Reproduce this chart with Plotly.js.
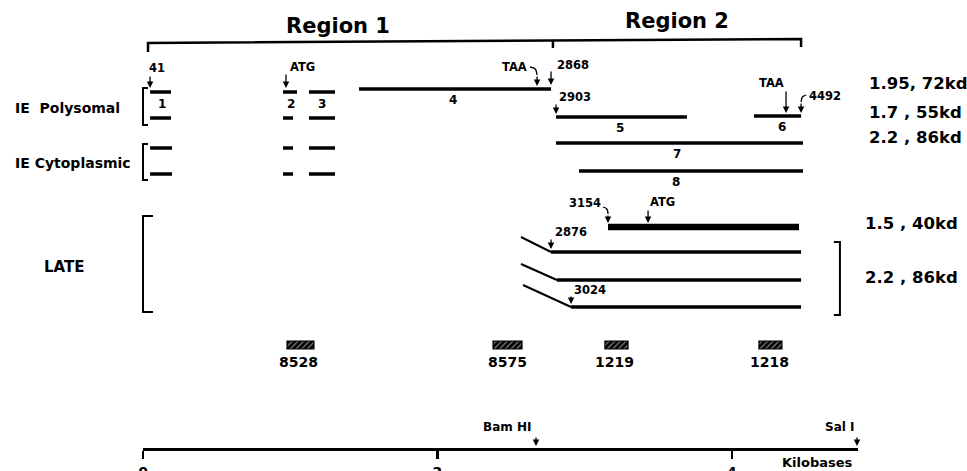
<!DOCTYPE html>
<html><head><meta charset="utf-8">
<script src="https://cdn.plot.ly/plotly-3.0.1.min.js"></script>
<style>html,body{margin:0;padding:0;background:#fff}#chart{width:967px;height:471px}</style>
</head><body><div id="chart"></div>
<script>
// ===== DATA (x positions in kilobases, rows = vertical track position) =====
// IE transcripts: exon segments
const segStart = [0.048,0.951,1.127,1.467, 0.048,0.951,1.127,2.805,4.149, 0.048,0.951,1.127,2.805, 0.048,0.951,1.127,2.961];
const segEnd   = [0.190,1.046,1.304,2.771, 0.190,1.019,1.304,3.694,4.469, 0.197,1.019,1.304,4.482, 0.197,1.019,1.304,4.482];
const segRow   = [92,92,92,89, 118,118,118,117,116, 148,148,148,143, 174,174,174,171];

// exon numbers
const exonLabels   = ['1','2','3','4','5','6','7','8'];
const exonLabelKb  = [0.129,1.005,1.216,2.105,3.239,4.339,3.626,3.620];
const exonLabelRow = [104,104,104,100,128,127,154,182];

// late transcripts (leader start -> body start -> end)
const lateCapKb   = [2.567,2.567,2.581];
const lateCapRow  = [237,264,285];
const lateStartKb = [2.771,2.811,2.907];
const lateRow     = [252,280,307];
const lateEndKb   = [4.469,4.469,4.469];
const late15Kb    = [3.158,4.455];
const late15Row   = [227,227];

// sites with arrows
const siteLabels   = ['41','ATG','TAA','2868','2903','TAA','4492','3154','ATG','2876','3024'];
const siteLabelKb  = [0.095,1.080,2.520,2.920,2.934,4.265,4.632,3.002,3.531,2.907,3.036];
const siteLabelRow = [68,67,67,65,97,83,96,203,202,232,290];
const siteArrowKb  = [0.048,0.971,2.676,2.771,2.805,4.367,4.469,3.158,3.430,2.771,2.907];
const siteTailRow  = [75,73,75,70,103,90,102,214,209,238,295];
const siteTipRow   = [88,88,86,85,114,113,113,223,223,249,304];
// curved leaders of some arrows
const hookKb  = [[2.628,2.664,2.676],[4.503,4.478,4.469],[3.124,3.150,3.158]];
const hookRow = [[67,69,75],[95,97,102],[207,209,214]];

// region brackets
const regionNames = ['Region 1','Region 2'];
const regionLabelKb = [1.324,3.626];
const regionLabelRow = [26,21];
const regionEdgeKb = [0.034,2.784,4.469];

// class groups on the left
const groupNames = ['IE  Polysomal','IE Cytoplasmic','LATE'];
const groupLabelKb = [-0.883,-0.883,-0.686];
const groupLabelRow = [108,163,267];
const groupTop = [88,144,216];
const groupBottom = [125,180,312];

// size / protein labels on the right
const kdLabels = ['1.95, 72kd','1.7 , 55kd','2.2 , 86kd','1.5 , 40kd','2.2 , 86kd'];
const kdKb  = [4.917,4.917,4.917,4.890,4.890];
const kdRow = [83,112,137,223,277];
const lateBracketTop = 242, lateBracketBottom = 315, lateBracketKb = 4.733;

// probes
const probeLabels = ['8528','8575','1219','1218'];
const probeStart  = [0.978,2.377,3.137,4.183];
const probeEnd    = [1.161,2.574,3.294,4.339];
const probeRow    = [345,345,345,345];
const probeLabelKb = [1.053,2.472,3.205,4.258];

// scale and restriction sites
const scaleEndKb = 4.856;
const scaleTicks = [0,2,4];
const enzymeNames = ['Bam HI','Sal I'];
const enzymeLabelKb = [2.472,4.733];
const enzymeSiteKb = [2.669,4.849];
const scaleUnitLabel = 'Kilobases';
const scaleUnitKb = 4.584;

// ===== DRAWING =====
const K = '#000';
const FONT = 'DejaVu Sans';
const traces = [];
const ln = (x,y,w,extra)=>Object.assign({type:'scatter',mode:'lines',x:x,y:y,line:{color:K,width:w},hoverinfo:'skip',showlegend:false},extra||{});

// exon segments
let sx=[],sy=[];
segStart.forEach((s,i)=>{sx.push(s,segEnd[i],null);sy.push(segRow[i],segRow[i],null);});
traces.push(ln(sx,sy,3.5));
// late leaders and bodies
let dx=[],dy=[],bx=[],by=[];
lateCapKb.forEach((c,i)=>{dx.push(c,lateStartKb[i],null);dy.push(lateCapRow[i],lateRow[i],null);
  bx.push(lateStartKb[i],lateEndKb[i],null);by.push(lateRow[i],lateRow[i],null);});
traces.push(ln(dx,dy,2));
traces.push(ln(bx,by,3.5));
traces.push(ln(late15Kb,late15Row,6.5));
// region bracket
const rowAt = kb => 43 + (39-43)*(kb-regionEdgeKb[0])/(regionEdgeKb[2]-regionEdgeKb[0]);
traces.push(ln([regionEdgeKb[0],regionEdgeKb[0],regionEdgeKb[2],regionEdgeKb[2]],[52,43,39,47],2.5));
traces.push(ln([regionEdgeKb[1],regionEdgeKb[1]],[rowAt(regionEdgeKb[1]),48],2.5));
// group brackets
const tickEnd=[0.034,0.034,0.068];
let gx=[],gy=[];
groupTop.forEach((t,i)=>{gx.push(tickEnd[i],0,0,tickEnd[i],null);gy.push(t,t,groupBottom[i],groupBottom[i],null);});
traces.push(ln(gx,gy,2));
traces.push(ln([lateBracketKb-0.041,lateBracketKb,lateBracketKb,lateBracketKb-0.041],[lateBracketTop,lateBracketTop,lateBracketBottom,lateBracketBottom],2));
// hooks
hookKb.forEach((h,i)=>traces.push(ln(h,hookRow[i],1.3,{line:{color:K,width:1.3,shape:'spline'}})));
// probes (hatched boxes)
traces.push({type:'bar',orientation:'h',y:probeRow,base:probeStart,x:probeEnd.map((e,i)=>e-probeStart[i]),width:8,
  marker:{color:K,line:{color:K,width:1.2},pattern:{shape:'/',fgcolor:'#fff',bgcolor:K,size:4,solidity:0.3,fillmode:'overlay'}},
  hoverinfo:'skip',showlegend:false});
// scale axis holder
traces.push({type:'scatter',mode:'lines',x:[0,scaleEndKb],y:[449,449],xaxis:'x2',yaxis:'y',line:{width:0,color:'rgba(0,0,0,0)'},hoverinfo:'skip',showlegend:false});

const ann=[];
const txt=(t,x,y,size,anchor)=>ann.push({text:t,x:x,y:y,xref:'x',yref:'y',showarrow:false,xanchor:anchor||'center',yanchor:'middle',
  font:{family:FONT,size:size,color:K,weight:'bold'}});
const arr=(x,tail,tip)=>ann.push({x:x,y:tip,ax:x,ay:tail,xref:'x',yref:'y',axref:'x',ayref:'y',text:'',showarrow:true,
  arrowhead:2,arrowsize:1,arrowwidth:1.3,arrowcolor:K,standoff:0,startstandoff:0});

regionNames.forEach((t,i)=>txt(t,regionLabelKb[i],regionLabelRow[i],21));
groupNames.forEach((t,i)=>txt(t,groupLabelKb[i],groupLabelRow[i],i==2?15:14,'left'));
exonLabels.forEach((t,i)=>txt(t,exonLabelKb[i],exonLabelRow[i],12));
siteLabels.forEach((t,i)=>{txt(t,siteLabelKb[i],siteLabelRow[i],11.5);arr(siteArrowKb[i],siteTailRow[i],siteTipRow[i]);});
kdLabels.forEach((t,i)=>txt(t,kdKb[i],kdRow[i],16.5,'left'));
probeLabels.forEach((t,i)=>txt(t,probeLabelKb[i],362,14));
enzymeNames.forEach((t,i)=>{txt(t,enzymeLabelKb[i],427,12);arr(enzymeSiteKb[i],436,446);});
txt(scaleUnitLabel,scaleUnitKb,462,13);

const layout={
  width:967,height:471,margin:{l:0,r:0,t:0,b:0},paper_bgcolor:'#fff',plot_bgcolor:'rgba(0,0,0,0)',showlegend:false,
  xaxis:{range:[-143/147.25,824/147.25],visible:false,fixedrange:true},
  yaxis:{range:[471,0],visible:false,fixedrange:true},
  xaxis2:{domain:[143/967,858/967],range:[0,scaleEndKb],anchor:'free',position:22/471,showline:true,linewidth:3,linecolor:K,
    ticks:'outside',ticklen:8,tickwidth:2.5,tickcolor:K,tickvals:scaleTicks,ticktext:scaleTicks.map(String),
    showgrid:false,zeroline:false,tickfont:{family:FONT,size:14,color:K,weight:'bold'},ticklabelstandoff:1,fixedrange:true},
  annotations:ann
};
Plotly.newPlot('chart',traces,layout,{displayModeBar:false,staticPlot:true});
</script></body></html>
